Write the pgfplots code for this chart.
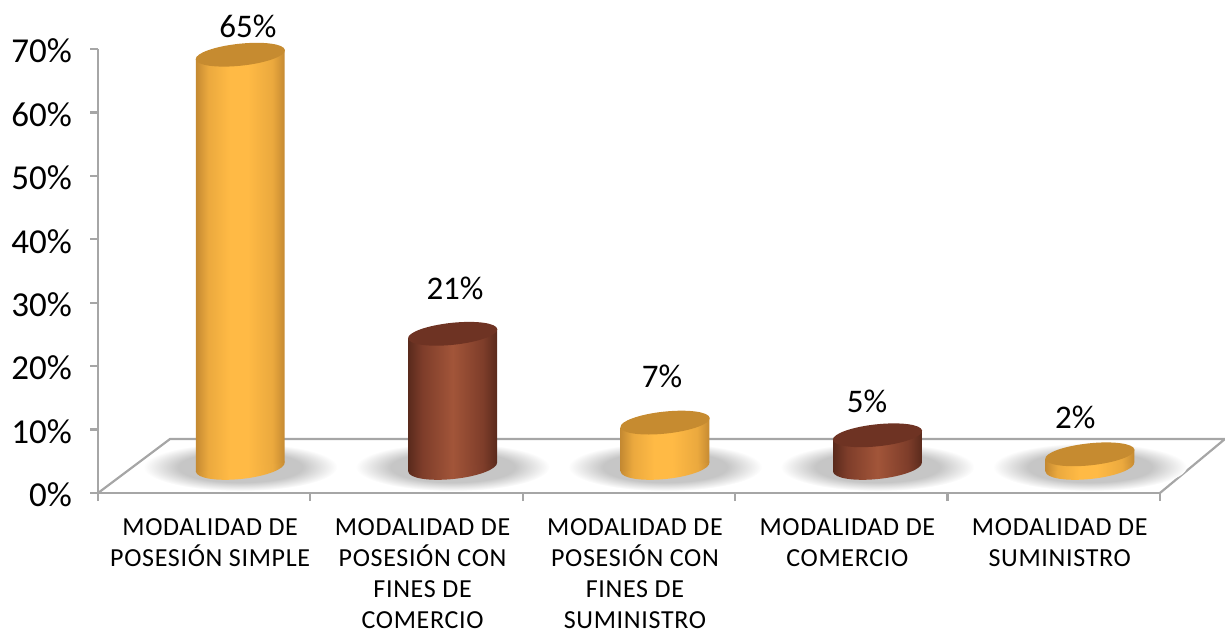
\documentclass[border=0pt]{standalone}
\usepackage{fontspec}
\setmainfont{Carlito}
\newfontfamily\catfont[LetterSpace=2.6]{Carlito}
\usepackage{pgfplots}
\pgfplotsset{compat=1.18}
\definecolor{axisgray}{HTML}{A6A6A6}
\definecolor{goldtop}{HTML}{C68B30}
\definecolor{darktop}{HTML}{6E3323}
\definecolor{g0}{HTML}{C58A32}\definecolor{g1}{HTML}{EBA93E}\definecolor{g2}{HTML}{FFBA45}
\definecolor{d0}{HTML}{5A2A1C}\definecolor{d1}{HTML}{7E3D2A}\definecolor{d2}{HTML}{A25539}
\definecolor{sh0}{HTML}{C6C6C6}
\pgfdeclarehorizontalshading{cylG}{100bp}{color(0bp)=(g0); color(25bp)=(g0); color(32bp)=(g1); color(44bp)=(g2); color(54bp)=(g2); color(68bp)=(g1); color(75bp)=(g0); color(100bp)=(g0)}
\pgfdeclarehorizontalshading{cylD}{100bp}{color(0bp)=(d0); color(25bp)=(d0); color(33bp)=(d1); color(50bp)=(d2); color(67bp)=(d1); color(75bp)=(d0); color(100bp)=(d0)}
\pgfdeclareradialshading{floorsh}{\pgfpoint{0bp}{0bp}}{color(0bp)=(sh0); color(16bp)=(sh0); color(25bp)=(white); color(100bp)=(white)}
\pgfdeclareplotmark{floorshadow}{\pgfpathellipse{\pgfpointorigin}{\pgfqpoint{97pt}{0pt}}{\pgfqpoint{0pt}{24pt}}\pgfshadepath{floorsh}{0}\pgfusepath{discard}}
\pgfdeclareplotmark{goldbot}{\pgfpathellipse{\pgfpointorigin}{\pgfqpoint{44.4pt}{4.67pt}}{\pgfqpoint{-1.25pt}{11.93pt}}\pgfshadepath{cylG}{0}\pgfusepath{discard}}
\pgfdeclareplotmark{darkbot}{\pgfpathellipse{\pgfpointorigin}{\pgfqpoint{44.4pt}{4.67pt}}{\pgfqpoint{-1.25pt}{11.93pt}}\pgfshadepath{cylD}{0}\pgfusepath{discard}}
\pgfdeclareplotmark{goldcap}{\pgfpathellipse{\pgfpointorigin}{\pgfqpoint{44.6pt}{4.69pt}}{\pgfqpoint{-1.15pt}{10.94pt}}\pgfsetfillcolor{goldtop}\pgfusepathqfill}
\pgfdeclareplotmark{darkcap}{\pgfpathellipse{\pgfpointorigin}{\pgfqpoint{44.6pt}{4.69pt}}{\pgfqpoint{-1.15pt}{10.94pt}}\pgfsetfillcolor{darktop}\pgfusepathqfill}
\pgfplotsset{
  frame/.style={at={(98pt,140pt)},anchor=south west,scale only axis,width=1062pt,height=444pt,
    xmin=0,xmax=5,ymin=0,ymax=70,clip=false},
  hidden/.style={frame,hide axis},
  tilt/.style={yslant=0.105,yshift={-0.105*212.4*#1*1pt}},
}
\newcommand{\vallabel}[3]{\node[font=\fontsize{33}{36}\selectfont,inner sep=0pt] at (axis cs:#1,#2) {#3};}
\begin{document}
\begin{tikzpicture}
\useasboundingbox (0pt,0pt) rectangle (1225pt,633pt);
% axes, floor, shadows, cylinder bottoms
\begin{axis}[frame,
  axis lines=left,
  axis line style={-,draw=axisgray,line width=2.2pt},
  tick style={draw=axisgray,line width=2.2pt},
  major tick length=8pt,
  tick align=outside,
  ytick={0,10,...,70},
  yticklabel={\pgfmathprintnumber{\tick}\%},
  /pgf/number format/assume math mode=true,
  yticklabel style={font=\fontsize{35}{38}\selectfont,inner sep=0pt,xshift=-18pt,yshift=-2pt},
  xtick={0,1,2,3,4,5},
  x tick label as interval,
  xticklabels={{MODALIDAD DE\\POSESIÓN SIMPLE},{MODALIDAD DE\\POSESIÓN CON\\FINES DE\\COMERCIO},{MODALIDAD DE\\POSESIÓN CON\\FINES DE\\SUMINISTRO},{MODALIDAD DE\\COMERCIO},{MODALIDAD DE\\SUMINISTRO}},
  xticklabel style={font=\catfont\fontsize{26}{31}\selectfont,align=center,anchor=north,xshift=6pt,yshift=-17pt,inner sep=0pt},
]
\draw[axisgray,line width=2.2pt] (axis cs:0,0)--(axis cs:0.339,8.51)--(axis cs:5.306,8.51)--(axis cs:5,0);
\addplot[only marks,mark=floorshadow] coordinates {(0.67,4.1)(1.67,4.1)(2.67,4.1)(3.67,4.1)(4.67,4.1)};
\addplot[only marks,mark=goldbot] coordinates {(0.67,4.1)(2.67,4.1)(4.67,4.1)};
\addplot[only marks,mark=darkbot] coordinates {(1.67,4.1)(3.67,4.1)};
\end{axis}
% cylinders: each stands on the floor offset 4.1
\begin{axis}[hidden,ybar stacked,bar width=88.8pt,bar shift=0pt]
\addplot[draw=none,fill=none] coordinates {(0.67,4.1)};
\addplot[draw=none,shade,shading=cylG,tilt=0.67] coordinates {(0.67,65)};
\end{axis}
\begin{axis}[hidden,ybar stacked,bar width=88.8pt,bar shift=0pt]
\addplot[draw=none,fill=none] coordinates {(1.67,4.1)};
\addplot[draw=none,shade,shading=cylD,tilt=1.67] coordinates {(1.67,21)};
\end{axis}
\begin{axis}[hidden,ybar stacked,bar width=88.8pt,bar shift=0pt]
\addplot[draw=none,fill=none] coordinates {(2.67,4.1)};
\addplot[draw=none,shade,shading=cylG,tilt=2.67] coordinates {(2.67,7)};
\end{axis}
\begin{axis}[hidden,ybar stacked,bar width=88.8pt,bar shift=0pt]
\addplot[draw=none,fill=none] coordinates {(3.67,4.1)};
\addplot[draw=none,shade,shading=cylD,tilt=3.67] coordinates {(3.67,5)};
\end{axis}
\begin{axis}[hidden,ybar stacked,bar width=88.8pt,bar shift=0pt]
\addplot[draw=none,fill=none] coordinates {(4.67,4.1)};
\addplot[draw=none,shade,shading=cylG,tilt=4.67] coordinates {(4.67,2)};
\end{axis}
% caps and value labels
\begin{axis}[hidden]
\addplot[only marks,mark=goldcap] coordinates {(0.67,69.1)(2.67,11.1)(4.67,6.1)};
\addplot[only marks,mark=darkcap] coordinates {(1.67,25.1)(3.67,9.1)};
\vallabel{0.706}{73.6}{65\%}
\vallabel{1.681}{32.3}{21\%}
\vallabel{2.656}{18.4}{7\%}
\vallabel{3.621}{14.5}{5\%}
\vallabel{4.601}{12.0}{2\%}
\end{axis}
\end{tikzpicture}
\end{document}
